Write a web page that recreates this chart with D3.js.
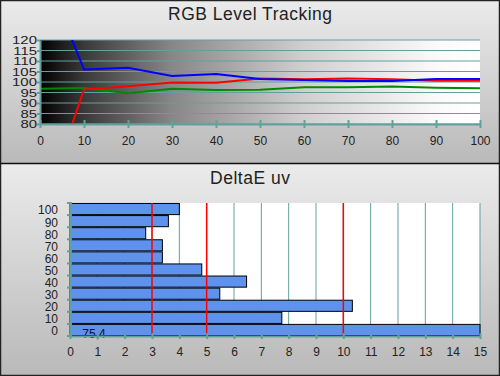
<!DOCTYPE html>
<html>
<head>
<meta charset="utf-8">
<script src="https://cdn.jsdelivr.net/npm/d3@7"></script>
<style>
  body { margin: 0; background: #fff; }
  svg { display: block; font-family: "Liberation Sans", Arial, sans-serif; }
</style>
</head>
<body>
<svg id="chart" width="500" height="376"></svg>
<script>
// RGB level tracking (stimulus %)
var levels = [0, 10, 20, 30, 40, 50, 60, 70, 80, 90, 100];
var redLevel = [35, 96.5, 98, 99.8, 99.7, 101.7, 101.3, 101.7, 101.3, 100.6, 100.6];
var greenLevel = [96.8, 97.1, 94.6, 96.8, 96.2, 96.3, 97.5, 97.5, 97.8, 97.3, 97];
var blueLevel = [158, 106, 106.8, 102.9, 103.8, 101.4, 101, 100.5, 100.5, 101.4, 101.4];
var levelTicks = [80, 85, 90, 95, 100, 105, 110, 115, 120];

// DeltaE uv per grey step
var steps = ['100', '90', '80', '70', '60', '50', '40', '30', '20', '10', '0'];
var deltaE = [4.0, 3.6, 2.77, 3.38, 3.38, 4.82, 6.46, 5.48, 10.33, 7.75, 75.4];
var deTicks = d3.range(0, 16);
var limits = [3, 5, 10];

var teal = '#62a09b';
var svg = d3.select('#chart');
var defs = svg.append('defs');

var panelGrad = defs.append('linearGradient')
    .attr('id', 'panelGrad')
    .attr('x1', 0).attr('y1', 0).attr('x2', 0).attr('y2', 1);
panelGrad.append('stop').attr('offset', '0%').attr('stop-color', '#ebebeb');
panelGrad.append('stop').attr('offset', '100%').attr('stop-color', '#b9b9b9');

var greyRamp = defs.append('linearGradient')
    .attr('id', 'greyRamp')
    .attr('x1', 0).attr('y1', 0).attr('x2', 1).attr('y2', 0);
[[0, '#000'], [0.1, '#3a3a3a'], [0.3, '#878787'], [0.6, '#cfcfcf'], [0.9, '#fafafa'], [1, '#fff']]
    .forEach(function(s) {
        greyRamp.append('stop').attr('offset', s[0]).attr('stop-color', s[1]);
    });

// panels
svg.append('rect').attr('x', 0).attr('y', 0).attr('width', 500).attr('height', 164)
    .attr('fill', 'url(#panelGrad)');
svg.append('rect').attr('x', 0).attr('y', 164).attr('width', 500).attr('height', 212)
    .attr('fill', 'url(#panelGrad)');

// ---------- top chart ----------
var x1 = d3.scaleLinear().domain([0, 100]).range([40, 480]);
var y1 = d3.scaleLinear().domain([80, 120]).range([124, 40]);

svg.append('text')
    .attr('x', 250).attr('y', 20)
    .attr('text-anchor', 'middle')
    .attr('font-size', 17.5)
    .attr('textLength', 164)
    .attr('fill', '#222')
    .text('RGB Level Tracking');

svg.append('rect')
    .attr('x', x1(0)).attr('y', y1(120))
    .attr('width', x1(100) - x1(0)).attr('height', y1(80) - y1(120))
    .attr('fill', 'url(#greyRamp)');

svg.append('g').selectAll('line')
    .data(levelTicks)
    .join('line')
    .attr('x1', x1(0)).attr('x2', x1(100))
    .attr('y1', function(d) { return y1(d); })
    .attr('y2', function(d) { return y1(d); })
    .attr('stroke', teal)
    .attr('stroke-width', 1);

defs.append('clipPath').attr('id', 'clipTop')
    .append('rect')
    .attr('x', x1(0)).attr('y', y1(120))
    .attr('width', x1(100) - x1(0)).attr('height', y1(80) - y1(120));

var line = d3.line()
    .x(function(d, i) { return x1(levels[i]); })
    .y(function(d) { return y1(d); });

var series = [[greenLevel, '#008a00'], [redLevel, '#ff0000'], [blueLevel, '#0000ff']];
svg.append('g').attr('clip-path', 'url(#clipTop)')
    .selectAll('path')
    .data(series)
    .join('path')
    .attr('d', function(d) { return line(d[0]); })
    .attr('fill', 'none')
    .attr('stroke', function(d) { return d[1]; })
    .attr('stroke-width', 2);

var yAxis1 = svg.append('g')
    .attr('transform', 'translate(' + x1(0) + ',0)')
    .call(d3.axisLeft(y1).tickValues(levelTicks).tickSize(3).tickSizeOuter(0));
var xAxis1 = svg.append('g')
    .attr('transform', 'translate(0,' + y1(80) + ')')
    .call(d3.axisBottom(x1).tickValues(levels).tickSize(4).tickSizeOuter(0).tickPadding(8));
[yAxis1, xAxis1].forEach(function(a) {
    a.select('.domain').attr('stroke', teal).attr('stroke-width', 2);
    a.selectAll('.tick line').attr('stroke', teal).attr('stroke-width', 2);
    a.selectAll('text').attr('fill', '#222').attr('font-size', 12)
        .attr('font-family', '"Liberation Sans", Arial, sans-serif');
});
xAxis1.selectAll('.tick line').attr('y1', -4);
// the level labels are drawn wide and short
yAxis1.selectAll('.tick text')
    .attr('x', 0)
    .attr('font-size', 11.5)
    .attr('transform', 'translate(-3,0) scale(1.3,1)');

// ---------- bottom chart ----------
var x2 = d3.scaleLinear().domain([0, 15]).range([70, 480]);
var y2 = d3.scaleBand().domain(steps).range([203, 336]).paddingInner(0.08).paddingOuter(0.04);

svg.append('text')
    .attr('x', 250).attr('y', 184)
    .attr('text-anchor', 'middle')
    .attr('font-size', 17.5)
    .attr('textLength', 80)
    .attr('fill', '#222')
    .text('DeltaE uv');

svg.append('rect')
    .attr('x', x2(0)).attr('y', 203)
    .attr('width', x2(15) - x2(0)).attr('height', 133)
    .attr('fill', '#fff');

svg.append('g').selectAll('line')
    .data(deTicks.slice(1))
    .join('line')
    .attr('x1', function(d) { return x2(d); })
    .attr('x2', function(d) { return x2(d); })
    .attr('y1', 203).attr('y2', 336)
    .attr('stroke', teal)
    .attr('stroke-width', 1);

svg.append('g').selectAll('rect')
    .data(deltaE)
    .join('rect')
    .attr('x', x2(0))
    .attr('y', function(d, i) { return y2(steps[i]); })
    .attr('width', function(d) { return x2(Math.min(d, 15)) - x2(0); })
    .attr('height', y2.bandwidth())
    .attr('fill', '#5f92ec')
    .attr('stroke', '#000')
    .attr('stroke-width', 1);

svg.append('g').selectAll('line')
    .data(limits)
    .join('line')
    .attr('x1', function(d) { return x2(d); })
    .attr('x2', function(d) { return x2(d); })
    .attr('y1', 203).attr('y2', 336)
    .attr('stroke', '#ff0000')
    .attr('stroke-width', 1.5);

// label for the off-scale bar
svg.append('text')
    .attr('x', x2(0.45)).attr('y', 338)
    .attr('font-size', 12)
    .attr('fill', '#111')
    .text(String(deltaE[deltaE.length - 1]).replace('.', ','));

var yAxis2 = svg.append('g')
    .attr('transform', 'translate(' + x2(0) + ',0)')
    .call(d3.axisLeft(y2).tickSize(0).tickPadding(12));
yAxis2.selectAll('.tick text').attr('dy', '0.45em');
yAxis2.selectAll('.bound')
    .data(d3.range(steps.length + 1))
    .join('line')
    .attr('x1', -3).attr('x2', 2)
    .attr('y1', function(d) { return 203 + d * 133 / steps.length; })
    .attr('y2', function(d) { return 203 + d * 133 / steps.length; });
var xAxis2 = svg.append('g')
    .attr('transform', 'translate(0,336)')
    .call(d3.axisBottom(x2).tickValues(deTicks).tickSize(3).tickSizeOuter(0).tickPadding(8));
xAxis2.selectAll('.tick line').attr('y1', -3);
[yAxis2, xAxis2].forEach(function(a) {
    a.select('.domain').attr('stroke', teal).attr('stroke-width', 2);
    a.selectAll('line').attr('stroke', teal).attr('stroke-width', 2);
    a.selectAll('text').attr('fill', '#222').attr('font-size', 12)
        .attr('font-family', '"Liberation Sans", Arial, sans-serif');
});

// frame
svg.append('rect').attr('x', 0.5).attr('y', 0.5).attr('width', 499).attr('height', 375)
    .attr('fill', 'none').attr('stroke', '#222').attr('stroke-width', 1.5);
svg.append('line').attr('x1', 0).attr('x2', 500).attr('y1', 163.5).attr('y2', 163.5)
    .attr('stroke', '#111').attr('stroke-width', 1.5);
</script>
</body>
</html>
